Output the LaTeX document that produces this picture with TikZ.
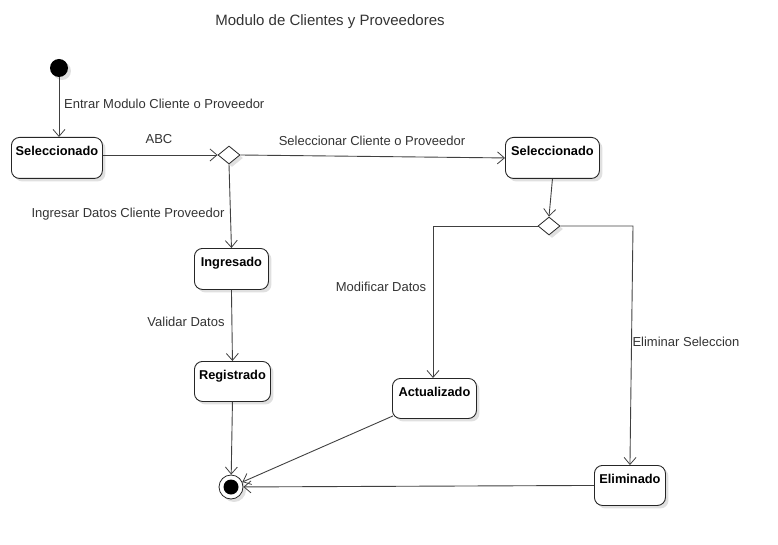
\documentclass[tikz,border=0pt]{standalone}
\usepackage{fontspec}
\setmainfont{Liberation Sans}
\usetikzlibrary{arrows.meta,shapes.geometric,shadows,calc}
\begin{document}
\begin{tikzpicture}[x=1pt,y=-1pt,
  every node/.style={font=\fontsize{13}{15}\selectfont},
  shd/.style={drop shadow={shadow xshift=3pt,shadow yshift=-3pt,opacity=0.12,fill=black}},
  stbox/.style={draw=black!85,line width=0.9pt,rounded corners=8pt,fill=white,shd,
    anchor=north west,inner xsep=0pt,inner ysep=0pt,text height=18pt,
    font=\fontsize{12.8}{14}\selectfont\bfseries,align=center},
  dec/.style={diamond,draw=black!85,line width=0.8pt,fill=white,shd,inner sep=0pt,
    minimum width=22pt,minimum height=18pt},
  lbl/.style={text=black!80,inner sep=0pt},
  conn/.style={draw=black!75,line width=0.9pt},
  arr/.style={conn,-{Straight Barb[length=7pt,width=12pt,line width=0.8pt]}}
]
\useasboundingbox (0,0) rectangle (778,545);

% title
\node[lbl,font=\fontsize{15}{17}\selectfont] (title) at (330,22) {Modulo de Clientes y Proveedores};

% initial and final
\node[circle,fill=black,inner sep=0pt,minimum size=18pt,shd] (init) at (59,68) {};
\node[circle,draw=black!85,line width=0.8pt,fill=white,inner sep=0pt,minimum size=24pt,shd] (fin) at (231,487) {};
\node[circle,fill=black,inner sep=0pt,minimum size=15pt] (fininner) at (fin) {};

% states
\node[stbox,minimum width=91pt,text depth=23pt] (sel1) at (11,137) {Seleccionado};
\node[stbox,minimum width=94pt,text depth=23pt] (sel2) at (505,137) {Seleccionado};
\node[stbox,minimum width=74pt,text depth=23pt] (ing) at (194,248) {Ingresado};
\node[stbox,minimum width=76pt,text depth=22pt] (reg) at (194,361) {Registrado};
\node[stbox,minimum width=84pt,text depth=22pt] (act) at (392,378) {Actualizado};
\node[stbox,minimum width=71pt,text depth=22pt] (elim) at (594,465) {Eliminado};

% decisions
\node[dec] (d1) at (229,155) {};
\node[dec] (d2) at (549,226) {};

% bend coordinates
\coordinate (c1) at (433,226);
\coordinate (c2) at (633,226);
\coordinate (s1) at (sel1.east |- d1);

% connectors
\draw[arr] (init.south) -- (init.south |- sel1.north);
\draw[arr] (s1) -- (d1.west);
\draw[arr] (d1.east) -- (sel2.west);
\draw[arr] (d1.south) -- (ing.north);
\draw[arr] (ing.south) -- (reg.north);
\draw[arr] (reg.south) -- (fin);
\draw[arr] ($(act.south west)+(1,-3)$) -- (fin);
\draw[arr] (elim.west) -- (fin);
\draw[arr] (sel2.south) -- (d2.north);
\draw[arr] (d2.west) -- (c1) -- (c1 |- act.north);
\draw[arr] (d2.east) -- (c2) -- (elim.north);

% labels
\node[lbl,anchor=west] (l1) at (64,104) {Entrar Modulo Cliente o Proveedor};
\node[lbl] (l2) at (159,139) {ABC};
\node[lbl] (l3) at (372,141) {Seleccionar Cliente o Proveedor};
\node[lbl] (l4) at (128,214) {Ingresar Datos Cliente Proveedor};
\node[lbl] (l5) at (186,322) {Validar Datos};
\node[lbl] (l6) at (381,287) {Modificar Datos};
\node[lbl] (l7) at (686,342) {Eliminar Seleccion};
\end{tikzpicture}
\end{document}
